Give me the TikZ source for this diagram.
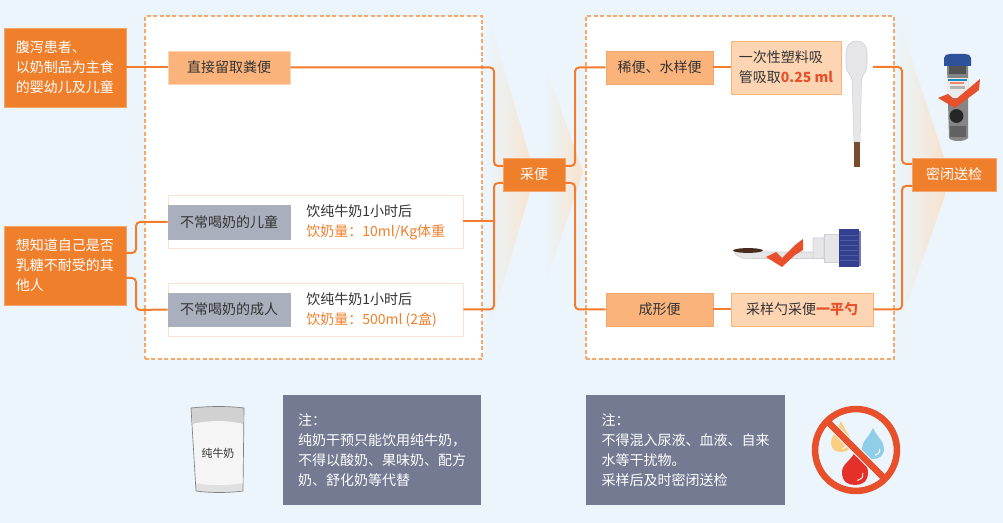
\documentclass[tikz,border=0pt]{standalone}
\usepackage{fontspec}
\setmainfont{Noto Sans CJK SC}
\definecolor{pagebg}{HTML}{EBF5FB}
\definecolor{org}{HTML}{F07F2C}
\definecolor{lineorg}{HTML}{F47C2C}
\definecolor{dashorg}{HTML}{F7A86B}
\definecolor{midorg}{HTML}{FBB37C}
\definecolor{palorg}{HTML}{FDD5B3}
\definecolor{rowedge}{HTML}{FDE3CF}
\definecolor{greybox}{HTML}{A9AFBD}
\definecolor{note}{HTML}{737A92}
\definecolor{ink}{HTML}{333333}
\definecolor{redm}{HTML}{E8502C}
\definecolor{chev}{HTML}{F8E2CC}
\definecolor{capblue}{HTML}{333F8F}
\definecolor{plastic}{HTML}{E6E6E8}
\definecolor{plasedge}{HTML}{CFCFD2}
\definecolor{brownm}{HTML}{7A4A2E}
\definecolor{dropo}{HTML}{FBCF82}
\definecolor{dropb}{HTML}{8FCDE8}
\definecolor{dropr}{HTML}{E5302A}
\tikzset{
  every node/.style={font=\fontsize{10.5}{15}\selectfont, inner sep=0pt, text=ink},
  conn/.style={draw=lineorg, line width=1.5pt, rounded corners=3pt},
  stagebox/.style={fill=org, draw=org!70!white, line width=.5pt, text=white, align=left},
  pale/.style={fill=midorg, draw=org!70!white, line width=.5pt},
  direct/.style={fill=midorg, draw=palorg, line width=.5pt},
  paler/.style={fill=palorg, draw=midorg, line width=.5pt, align=left},
  grey/.style={fill=greybox, draw=note!60!white, line width=.4pt},
  rowbox/.style={fill=white, draw=rowedge, line width=.7pt},
  card/.style={fill=white, draw=dashorg, line width=.8pt, dash pattern=on 3pt off 1.8pt},
  notebox/.style={fill=note, text=white, align=left},
  chevron/.style={left color=pagebg, right color=chev, draw=none},
}
% style, name, x1, y1, x2, y2, text
\newcommand{\pxbox}[7]{%
  \pgfmathsetmacro{\bw}{(#5-#3)*0.75}%
  \pgfmathsetmacro{\bh}{(#6-#4)*0.75}%
  \node[#1, minimum width=\bw pt, minimum height=\bh pt] (#2) at ({(#3+#5)/2},{(#4+#6)/2}) {#7};
}
\newcommand{\dropshape}[5]{% colour, tip x, tip y, centre y, radius
  \fill[#1] (#2,#3) .. controls ({#2+0.35*#5},{#3+0.45*(#4-#3)}) and ({#2+#5},{#4-0.6*#5}) .. ({#2+#5},#4)
    .. controls ({#2+#5},{#4+0.75*#5}) and ({#2+0.55*#5},{#4+#5}) .. (#2,{#4+#5})
    .. controls ({#2-0.55*#5},{#4+#5}) and ({#2-#5},{#4+0.75*#5}) .. ({#2-#5},#4)
    .. controls ({#2-#5},{#4-0.6*#5}) and ({#2-0.35*#5},{#3+0.45*(#4-#3)}) .. cycle;
  \draw[white, line width=.7pt, line cap=round] ({#2+0.6*#5},{#4+0.1*#5}) .. controls ({#2+0.6*#5},{#4+0.45*#5}) .. ({#2+0.2*#5},{#4+0.65*#5});
}
\begin{document}
\begin{tikzpicture}[x=0.75pt,y=-0.75pt]
\useasboundingbox (0,0) rectangle (1003,523);
\fill[pagebg] (0,0) rectangle (1003,523);

% cards and chevrons
\pxbox{card}{cardA}{145}{16}{482}{359}{}
\pxbox{card}{cardB}{586}{16}{894}{359}{}
\path[chevron] (488,15) -- (535,175) -- (488,335) -- cycle;
\path[chevron] (545,65) -- (583,172) -- (545,285) -- cycle;
\path[chevron] (898,18) -- (945,160) -- (945,195) -- (898,330) -- cycle;

% left boxes
\pxbox{stagebox}{who1}{4}{28}{126}{107}{腹泻患者、\\以奶制品为主食\\的婴幼儿及儿童}
\pxbox{stagebox}{who2}{4}{226}{126}{305}{想知道自己是否\\乳糖不耐受的其\\他人}

% column A
\pxbox{direct}{direct}{168}{51}{290}{84}{直接留取粪便}
\pxbox{rowbox}{row1}{168}{195}{463}{248}{}
\pxbox{rowbox}{row2}{168}{283}{463}{336}{}
\pxbox{grey}{kid}{168}{205}{290}{239}{不常喝奶的儿童}
\pxbox{grey}{adult}{168}{293}{290}{326}{不常喝奶的成人}
\node[anchor=west, align=left] (kidtxt) at (306,222) {饮纯牛奶1小时后\\\textcolor{org}{饮奶量：10ml/Kg体重}};
\node[anchor=west, align=left] (adulttxt) at (306,310) {饮纯牛奶1小时后\\\textcolor{org}{饮奶量：500ml (2盒)}};

% centre
\pxbox{stagebox}{sample}{503}{158}{565}{191}{采便}

% column B
\pxbox{pale}{thin}{606}{51}{713}{84}{稀便、水样便}
\pxbox{pale}{solid}{606}{293}{713}{326}{成形便}
\pxbox{paler}{pipettetxt}{731}{41}{841}{94}{一次性塑料吸\\管吸取\textcolor{redm}{\textbf{0.25 ml}}}
\pxbox{paler}{spoontxt}{731}{293}{873}{326}{采样勺采便\textcolor{redm}{\textbf{一平勺}}}
\pxbox{stagebox}{send}{912}{158}{996}{191}{密闭送检}

% free-end and routing coordinates
\coordinate (pipout) at (873,67);
\coordinate (sampleA) at (503,166);
\coordinate (sampleB) at (503,183);
\coordinate (sampleC) at (565,166);
\coordinate (sampleD) at (565,183);
\coordinate (sendA) at (912,164);
\coordinate (sendB) at (912,186);
\coordinate (who2A) at (126,253);
\coordinate (who2B) at (126,278);

% connectors
\draw[conn] (who1.east |- direct.west) -- (direct.west);
\draw[conn] (who2A) -- (136,253) -- (136,222) -- (kid.west);
\draw[conn] (who2B) -- (136,278) -- (136,310) -- (adult.west);
\draw[conn] (direct.east) -- (494,67.5) -- (494,166) -- (sampleA);
\draw[conn] (row2.east) -- (494,309.5) -- (494,183) -- (sampleB);
\draw[conn, rounded corners=0pt] (row1.east) -- (494,221.5);
\draw[conn] (sampleC) -- (575,166) -- (575,67.5) -- (thin.west);
\draw[conn] (sampleD) -- (575,183) -- (575,309.5) -- (solid.west);
\draw[conn] (thin.east) -- (pipettetxt.west |- thin.east);
\draw[conn] (solid.east) -- (spoontxt.west);
\draw[conn] (pipout) -- (902,67) -- (902,164) -- (sendA);
\draw[conn] (spoontxt.east) -- (902,309.5) -- (902,186) -- (sendB);

% pipette
\fill[plastic, draw=plasedge, line width=.4pt] (852,80) .. controls (851,74) and (846,73) .. (846,64) -- (846,52)
  .. controls (846,45) and (851,41) .. (856.5,41) .. controls (862,41) and (867,45) .. (867,52) -- (867,64)
  .. controls (867,73) and (862,74) .. (861.5,80) -- (860,142) -- (854,142) -- cycle;
\fill[brownm] (854,142) rectangle (860,167);

% spoon
\fill[plastic, draw=plasedge, line width=.4pt] (734,251) .. controls (736,258) and (744,259) .. (752,258.5) -- (813,258.5) -- (813,238) -- (824,238) -- (824,258.5) -- (813,258.5) -- (813,252) -- (762,252) -- cycle;
\fill[plastic, draw=plasedge, line width=.4pt] (824,234) rectangle (839,262);
\fill[capblue!70!white] (859,231) rectangle (861,266);
\fill[capblue] (839,229) rectangle (859,267);
\foreach \yy in {235,240,245,250,255,260} \draw[capblue!85!white, line width=.3pt] (840,\yy) -- (858,\yy);
\fill[brownm!60!black] (748,250.5) ellipse [x radius=11.2pt, y radius=1.8pt];
\fill[redm] (766,257) -- (776,252) -- (782,258) -- (795,245) -- (803,239) -- (803,250) -- (795,255) -- (782,267) -- cycle;

% vial
\fill[black!48] (947,66) -- (968,66) -- (968,138) .. controls (964,142) and (952,142) .. (949,138) -- cycle;
\fill[black!68] (949,66) rectangle (966,74);
\fill[white!92!black] (947,78) rectangle (968,98);
\fill[capblue!60!cyan] (948,79) rectangle (967,81);
\fill[redm!70!white] (950,82) rectangle (964,84);
\fill[black!30] (950,86) rectangle (965,89);
\fill[black!85] (956.5,116) circle [radius=5.2pt];
\fill[black!62] (950,126) rectangle (966,137);
\fill[capblue!90!cyan] (944,58) .. controls (944,55) and (947,54) .. (950,54) -- (965,54) .. controls (968,54) and (971,55) .. (971,58) -- (971,66) -- (944,66) -- cycle;
\fill[redm] (938,98) -- (948,94) -- (955,100) -- (980,79) -- (979,90) -- (955,108) -- cycle;

% milk glass
\fill[black!18] (191,408) .. controls (210,406) and (228,406) .. (244,408) -- (243,425) -- (193,425) -- cycle;
\fill[black!4] (192,424) .. controls (210,420) and (228,420) .. (243,424) -- (243,483) .. controls (228,486) and (210,486) .. (195,483) -- cycle;
\fill[black!12] (195,483) .. controls (210,486) and (228,486) .. (243,483) -- (242,491) .. controls (228,493) and (210,493) .. (196,491) -- cycle;
\draw[black!50, line width=.5pt] (191,408) .. controls (210,406) and (228,406) .. (244,408) -- (243,491) .. controls (228,493) and (210,493) .. (196,491) -- cycle;
\node[font=\fontsize{8.2}{10}\selectfont, text=black!80] (milk) at (218,453) {纯牛奶};

% notes
\pxbox{notebox}{noteA}{283}{395}{481}{505}{注：\\纯奶干预只能饮用纯牛奶，\\不得以酸奶、果味奶、配方\\奶、舒化奶等代替}
\pxbox{notebox}{noteB}{586}{395}{785}{505}{注：\\不得混入尿液、血液、自来\\水等干扰物。\\采样后及时密闭送检}

% prohibition sign
\dropshape{dropo}{841}{421}{442}{10}
\dropshape{dropb}{873}{428}{448}{11}
\dropshape{dropr}{855}{452}{472}{13}
\draw[pagebg, line width=6.5pt] (830,424) -- (882,476);
\draw[redm, line width=4.9pt] (826,420) -- (886,480);
\draw[redm, line width=4.9pt] (856,450) circle [radius=30.7pt];
\end{tikzpicture}
\end{document}
